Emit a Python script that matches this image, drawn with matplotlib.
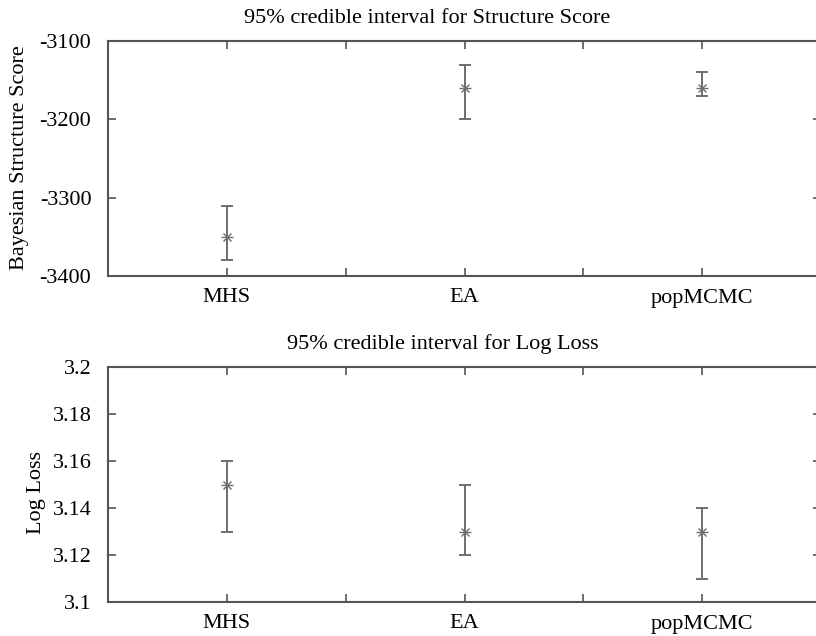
import matplotlib
matplotlib.use("Agg")
import matplotlib.pyplot as plt
import numpy as np

methods = ["MHS", "EA", "popMCMC"]
score_mid = [-3350, -3160, -3160]
score_low = [-3380, -3200, -3170]
score_high = [-3310, -3130, -3140]
loss_mid = [3.15, 3.13, 3.13]
loss_low = [3.13, 3.12, 3.11]
loss_high = [3.16, 3.15, 3.14]

score_ticks = [-3400, -3300, -3200, -3100]
loss_ticks = [3.1, 3.12, 3.14, 3.16, 3.18, 3.2]
loss_ticklabels = ["3.1", "3.12", "3.14", "3.16", "3.18", "3.2"]

plt.rcParams['font.family'] = ['Liberation Serif', 'DejaVu Serif']

W, H = 816, 636
fig = plt.figure(figsize=(W / 100, H / 100), dpi=100)

def px_axes(l, t, r, b):
    return fig.add_axes([l / W, 1 - b / H, (r - l) / W, (b - t) / H])

ax1 = px_axes(108, 41, 821, 276)
ax2 = px_axes(108, 367, 821, 602)

gray = "#6e6e6e"
spine_c = "#555555"

def draw(ax, mid, low, high, ylim, yticks, yticklabels, title, title_x,
         ylabel, ylabel_xy):
    x = np.arange(1, len(methods) + 1)
    mid = np.array(mid); low = np.array(low); high = np.array(high)
    ax.errorbar(x, mid, yerr=[mid - low, high - mid], fmt='none',
                ecolor=gray, elinewidth=1.4, capsize=4.2, capthick=1.4)
    ax.plot(x, mid, linestyle='none', marker='x', color=gray, markersize=6, mew=1.0)
    ax.plot(x, mid, linestyle='none', marker='_', color=gray, markersize=9, mew=1.0)
    ax.set_xlim(0.5, 3.5)
    ax.set_ylim(*ylim)
    ax.set_xticks(x)
    ax.set_xticklabels(methods, fontsize=16)
    ax.set_xticks([1.5, 2.5], minor=True)
    ax.set_yticks(yticks)
    ax.set_yticklabels(yticklabels, fontsize=16)
    ax.tick_params(axis='both', which='both', direction='in', top=True, right=True,
                   length=6, width=1.2, color=spine_c)
    ax.tick_params(axis='x', pad=9)
    ax.tick_params(axis='y', pad=12)
    for s in ax.spines.values():
        s.set_color(spine_c)
        s.set_linewidth(1.5)
    ax.text(title_x, 1.0, title, transform=ax.transAxes, fontsize=16,
            ha='center', va='bottom')
    t = ax.texts[-1]
    t.set_position((title_x, 1.055))
    ax.set_ylabel(ylabel, fontsize=16, va='center')
    ax.yaxis.set_label_coords(*ylabel_xy)

draw(ax1, score_mid, score_low, score_high, (-3400, -3100), score_ticks,
     [str(t) for t in score_ticks], "95% credible interval for Structure Score",
     (427 - 108) / 713, "Bayesian Structure Score", ((20 - 108) / 713, 0.505))
draw(ax2, loss_mid, loss_low, loss_high, (3.1, 3.2), loss_ticks, loss_ticklabels,
     "95% credible interval for Log Loss", (443 - 108) / 713,
     "Log Loss", ((37 - 108) / 713, 0.468))

fig.savefig("out.png", dpi=100)
